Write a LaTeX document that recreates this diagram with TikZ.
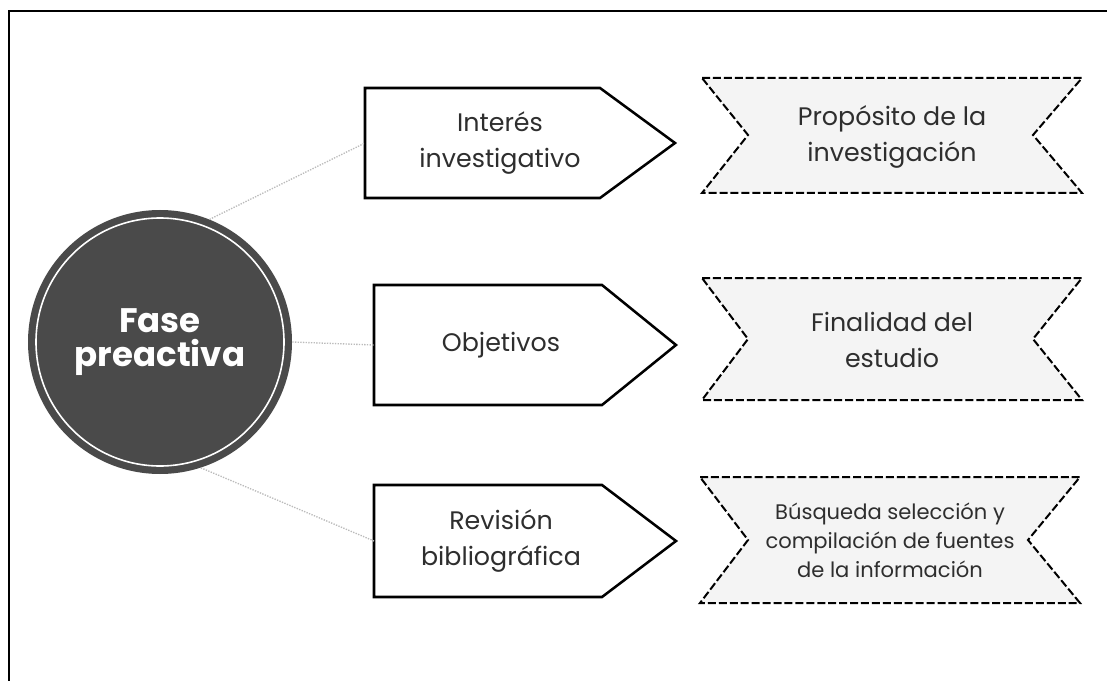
\documentclass[tikz,border=0pt]{standalone}
\usepackage{fontspec}
\setmainfont{Poppins}
\usetikzlibrary{calc}
\definecolor{circgray}{HTML}{4A4A4A}
\definecolor{txtgray}{HTML}{2E2E2E}
\definecolor{ribfill}{HTML}{F4F4F4}
\definecolor{linkgray}{HTML}{BBBBBB}
\begin{document}
\begin{tikzpicture}[x=0.75pt,y=-0.75pt,
  pent/.style={draw=black,line width=1.9pt,fill=white,line join=miter},
  ptext/.style={text=txtgray,font=\fontsize{19}{26.5}\selectfont,align=center,inner sep=0pt},
  rtext/.style={text=txtgray,font=\fontsize{19}{26.5}\selectfont,align=center,inner sep=0pt},
  rsmall/.style={text=txtgray,font=\fontsize{15.8}{21.8}\selectfont,align=center,inner sep=0pt},
  rib/.style={draw=black,line width=1.5pt,dash pattern=on 6pt off 2.2pt,fill=ribfill},
  link/.style={draw=linkgray,line width=1pt,densely dotted},
]
\useasboundingbox (0,0) rectangle (1107,681);
\draw[line width=1.5pt] (1107,11) -- (9,11) -- (9,681);

% central circle
\node[circle,fill=circgray,minimum size=198pt,inner sep=0pt,text=white,
      font=\bfseries\fontsize{25.5}{25}\selectfont,align=center] (circ) at (160,342) {Fase\\preactiva};
\draw[white,line width=1.2pt] (circ.center) circle[radius=93pt];

% pentagons
\coordinate (c1) at (500,143);
\coordinate (c2) at (501,345);
\coordinate (c3) at (501,541);
\draw[pent] ($(c1)+(-135,-55)$) -- ($(c1)+(100,-55)$) -- ($(c1)+(175,0)$) -- ($(c1)+(100,55)$) -- ($(c1)+(-135,55)$) -- cycle;
\draw[pent] ($(c2)+(-127,-60)$) -- ($(c2)+(101,-60)$) -- ($(c2)+(175,0)$) -- ($(c2)+(101,60)$) -- ($(c2)+(-127,60)$) -- cycle;
\draw[pent] ($(c3)+(-127,-56)$) -- ($(c3)+(101,-56)$) -- ($(c3)+(175,0)$) -- ($(c3)+(101,56)$) -- ($(c3)+(-127,56)$) -- cycle;
\node[ptext] (b1) at (c1) {Interés\\investigativo};
\node[ptext] (b2) at (c2) {Objetivos};
\node[ptext] (b3) at (c3) {Revisión\\bibliográfica};
\coordinate (b1w) at ($(c1)+(-135,0)$);
\coordinate (b2w) at ($(c2)+(-127,0)$);
\coordinate (b3w) at ($(c3)+(-127,0)$);

% ribbons
\coordinate (r1) at (892,135);
\coordinate (r2) at (892,339);
\coordinate (r3) at (890,540);
\draw[rib] ($(r1)+(-190,-57)$) -- ($(r1)+(190,-57)$) -- ($(r1)+(141,0)$) -- ($(r1)+(190,58)$) -- ($(r1)+(-190,58)$) -- ($(r1)+(-144,0)$) -- cycle;
\draw[rib] ($(r2)+(-190,-61)$) -- ($(r2)+(190,-61)$) -- ($(r2)+(141,0)$) -- ($(r2)+(190,61)$) -- ($(r2)+(-190,61)$) -- ($(r2)+(-144,0)$) -- cycle;
\draw[rib] ($(r3)+(-190,-63)$) -- ($(r3)+(190,-63)$) -- ($(r3)+(138,0)$) -- ($(r3)+(190,63)$) -- ($(r3)+(-190,63)$) -- ($(r3)+(-142,0)$) -- cycle;
\node[rtext] (t1) at ($(r1)+(0,2)$) {Propósito de la\\investigación};
\node[rtext] (t2) at ($(r2)+(0,1)$) {Finalidad del\\estudio};
\node[rsmall] (t3) at (r3) {Búsqueda selección y\\compilación de fuentes\\de la información};

% links
\draw[link] (circ.68) -- (b1w);
\draw[link] (circ.east) -- (b2w);
\draw[link] (circ.-72) -- (b3w);
\end{tikzpicture}
\end{document}
